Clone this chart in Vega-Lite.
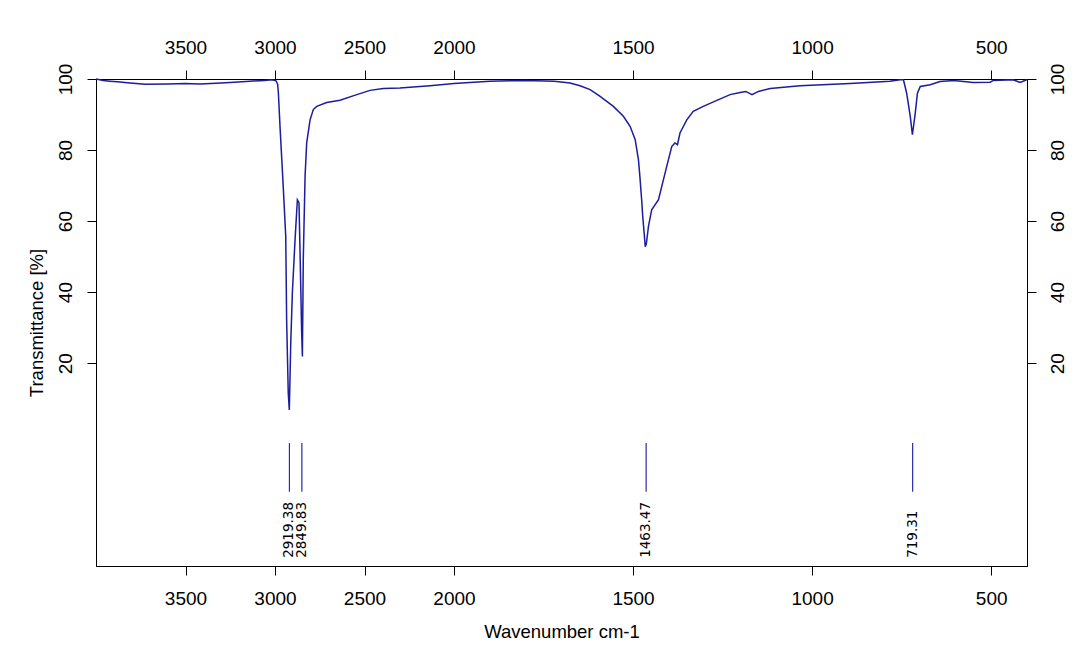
{
  "$schema": "https://vega.github.io/schema/vega-lite/v6.json",
  "width": 931,
  "height": 487,
  "autosize": {"type": "none"},
  "padding": {"left": 96, "top": 79, "right": 53, "bottom": 100},
  "background": "white",
  "config": {
    "view": {"stroke": "black", "strokeWidth": 1},
    "axis": {
      "domainColor": "black",
      "tickColor": "black",
      "labelColor": "black",
      "titleColor": "black",
      "labelFont": "Liberation Sans",
      "titleFont": "Liberation Sans",
      "labelFontSize": 19,
      "titleFontSize": 18.5,
      "titleFontWeight": "normal",
      "tickSize": 9,
      "grid": false
    }
  },
  "datasets": {
    "spectrum": [
      {"wn": 4000, "t": 100}, {"wn": 3960, "t": 99.6}, {"wn": 3922, "t": 99.4}, {"wn": 3880, "t": 99.2},
      {"wn": 3810, "t": 98.9}, {"wn": 3726, "t": 98.5}, {"wn": 3600, "t": 98.6}, {"wn": 3500, "t": 98.7},
      {"wn": 3419, "t": 98.6}, {"wn": 3330, "t": 98.8}, {"wn": 3251, "t": 99.0}, {"wn": 3140, "t": 99.4},
      {"wn": 3060, "t": 99.6}, {"wn": 3017, "t": 99.8}, {"wn": 2994, "t": 99.5}, {"wn": 2985, "t": 98.5},
      {"wn": 2981, "t": 96}, {"wn": 2972, "t": 86.6}, {"wn": 2962, "t": 77.3}, {"wn": 2954, "t": 69.7},
      {"wn": 2940, "t": 55.7}, {"wn": 2935, "t": 32.2}, {"wn": 2926, "t": 11.6}, {"wn": 2920, "t": 6.8},
      {"wn": 2912, "t": 25.7}, {"wn": 2903, "t": 39.8}, {"wn": 2888, "t": 54.7}, {"wn": 2875, "t": 66},
      {"wn": 2866, "t": 65.2}, {"wn": 2860, "t": 51.1}, {"wn": 2851, "t": 28.5}, {"wn": 2847, "t": 21.9},
      {"wn": 2842, "t": 49.1}, {"wn": 2832, "t": 72.6}, {"wn": 2823, "t": 82}, {"wn": 2804, "t": 88.5},
      {"wn": 2786, "t": 91.4}, {"wn": 2767, "t": 92.3}, {"wn": 2711, "t": 93.4}, {"wn": 2637, "t": 94},
      {"wn": 2543, "t": 95.6}, {"wn": 2469, "t": 96.8}, {"wn": 2395, "t": 97.3}, {"wn": 2302, "t": 97.5},
      {"wn": 2134, "t": 98.1}, {"wn": 2000, "t": 98.7}, {"wn": 1900, "t": 99.4}, {"wn": 1800, "t": 99.6},
      {"wn": 1720, "t": 99.4}, {"wn": 1676, "t": 98.9}, {"wn": 1648, "t": 98.1}, {"wn": 1620, "t": 97},
      {"wn": 1592, "t": 95.1}, {"wn": 1555, "t": 92.3}, {"wn": 1527, "t": 89.5}, {"wn": 1508, "t": 86.6},
      {"wn": 1494, "t": 82.9}, {"wn": 1485, "t": 77.3}, {"wn": 1481, "t": 72.6}, {"wn": 1476, "t": 66},
      {"wn": 1473, "t": 61.3}, {"wn": 1469, "t": 56.6}, {"wn": 1466, "t": 52.8}, {"wn": 1463, "t": 53.5},
      {"wn": 1457, "t": 58.5}, {"wn": 1448, "t": 63.2}, {"wn": 1429, "t": 66}, {"wn": 1420, "t": 69.7},
      {"wn": 1406, "t": 75.4}, {"wn": 1392, "t": 81}, {"wn": 1383, "t": 82}, {"wn": 1376, "t": 81.5},
      {"wn": 1369, "t": 84.8}, {"wn": 1350, "t": 88.5}, {"wn": 1332, "t": 90.9}, {"wn": 1304, "t": 92.3},
      {"wn": 1266, "t": 94}, {"wn": 1229, "t": 95.6}, {"wn": 1201, "t": 96.2}, {"wn": 1185, "t": 96.5},
      {"wn": 1168, "t": 95.6}, {"wn": 1150, "t": 96.5}, {"wn": 1117, "t": 97.3}, {"wn": 1034, "t": 98.1},
      {"wn": 894, "t": 98.7}, {"wn": 783, "t": 99.4}, {"wn": 754, "t": 99.8}, {"wn": 745, "t": 99.8},
      {"wn": 736, "t": 96}, {"wn": 726, "t": 89.5}, {"wn": 720, "t": 84.3}, {"wn": 712, "t": 90.4},
      {"wn": 706, "t": 96}, {"wn": 698, "t": 97.9}, {"wn": 670, "t": 98.4}, {"wn": 643, "t": 99.3},
      {"wn": 605, "t": 99.6}, {"wn": 570, "t": 99.2}, {"wn": 550, "t": 99}, {"wn": 503, "t": 99.1},
      {"wn": 494, "t": 99.6}, {"wn": 439, "t": 99.8}, {"wn": 419, "t": 99}, {"wn": 401, "t": 99.8}
    ],
    "peaks": [
      {"wn": 2919.38, "label": "2919.38"},
      {"wn": 2849.83, "label": "2849.83"},
      {"wn": 1463.47, "label": "1463.47"},
      {"wn": 719.31, "label": "719.31"}
    ]
  },
  "layer": [
    {
      "data": {"name": "spectrum"},
      "mark": {"type": "line", "color": "#1c1c9e", "strokeWidth": 1.5, "interpolate": "linear"},
      "encoding": {
        "x": {
          "field": "wn", "type": "quantitative",
          "scale": {"type": "linear", "domain": [4000, 2000, 400], "range": [0, 358, 931], "nice": false, "zero": false},
          "axis": {"orient": "bottom", "values": [3500, 3000, 2500, 2000, 1500, 1000, 500], "format": "d",
                   "title": "Wavenumber cm-1", "labelPadding": 14, "titlePadding": 14}
        },
        "y": {
          "field": "t", "type": "quantitative",
          "scale": {"domain": [-37.1, 100], "nice": false, "zero": false},
          "axis": {"orient": "left", "values": [20, 40, 60, 80, 100], "labelAngle": -90,
                   "labelAlign": "center", "labelBaseline": "bottom", "labelPadding": 12,
                   "title": "Transmittance [%]", "titlePadding": 10}
        }
      }
    },
    {
      "data": {"name": "peaks"},
      "mark": {"type": "rule", "color": "#2a2aa8", "strokeWidth": 1.2},
      "encoding": {
        "x": {"field": "wn", "type": "quantitative",
              "axis": {"orient": "top", "values": [3500, 3000, 2500, 2000, 1500, 1000, 500], "format": "d",
                       "title": null, "labelPadding": 13}},
        "y": {"datum": -2.5, "type": "quantitative",
              "axis": {"orient": "right", "values": [20, 40, 60, 80, 100], "labelAngle": -90,
                       "labelAlign": "center", "labelBaseline": "top", "labelPadding": 12, "title": null}},
        "y2": {"datum": -16.2}
      }
    },
    {
      "data": {"name": "peaks"},
      "mark": {"type": "text", "angle": -90, "align": "left", "baseline": "middle",
               "font": "DejaVu Sans", "fontSize": 13.5, "color": "black"},
      "encoding": {
        "x": {"field": "wn", "type": "quantitative", "axis": null},
        "y": {"datum": -34.8, "type": "quantitative", "axis": null},
        "text": {"field": "label"}
      }
    }
  ],
  "resolve": {"axis": {"x": "independent", "y": "independent"}}
}
